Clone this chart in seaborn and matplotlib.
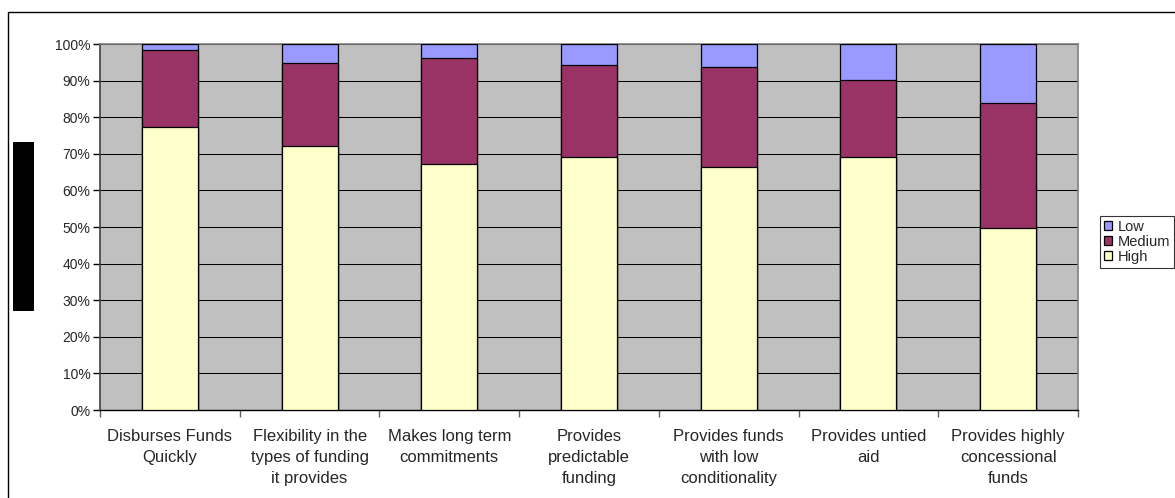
import matplotlib
matplotlib.use("Agg")
import matplotlib.pyplot as plt
import seaborn as sns
import pandas as pd
import numpy as np
from matplotlib.patches import Rectangle

categories = [
    "Disburses Funds\nQuickly",
    "Flexibility in the\ntypes of funding\nit provides",
    "Makes long term\ncommitments",
    "Provides\npredictable\nfunding",
    "Provides funds\nwith low\nconditionality",
    "Provides untied\naid",
    "Provides highly\nconcessional\nfunds",
]
high = [77.3, 72.1, 67.3, 69.0, 66.3, 69.0, 49.8]
medium = [21.1, 22.8, 28.9, 25.3, 27.4, 21.2, 34.2]
low = [1.6, 5.1, 3.8, 5.7, 6.3, 9.8, 16.0]
series_names = ["Low", "Medium", "High"]
colors = {"Low": "#9999FF", "Medium": "#993366", "High": "#FFFFCC"}
yticklabels = ["0%", "10%", "20%", "30%", "40%", "50%", "60%", "70%", "80%", "90%", "100%"]

sns.set_theme(style="white")
plt.rcParams["font.family"] = ["Liberation Sans", "DejaVu Sans"]

df = pd.DataFrame({"cat": categories, "High": high, "Medium": medium, "Low": low})
df["top_high"] = df["High"]
df["top_medium"] = df["High"] + df["Medium"]
df["top_low"] = df["High"] + df["Medium"] + df["Low"]

fig = plt.figure(figsize=(11.75, 4.98), dpi=100)
ax = fig.add_axes([100 / 1175, 1 - 410 / 498, 978 / 1175, 366 / 498])
ax.set_facecolor("#C0C0C0")

for col, name in [("top_low", "Low"), ("top_medium", "Medium"), ("top_high", "High")]:
    sns.barplot(data=df, x="cat", y=col, ax=ax, color=colors[name], saturation=1,
                width=0.4, edgecolor="black", linewidth=0.9, zorder=3, label=name)

ax.set_ylim(0, 100)
ax.set_xlim(-0.5, len(categories) - 0.5)
ax.set_yticks(np.arange(0, 101, 10))
ax.set_yticklabels(yticklabels, fontsize=10)
ax.set_xticks(range(len(categories)))
ax.set_xticklabels(categories, fontsize=12, linespacing=1.5)
ax.set_xlabel("")
ax.set_ylabel("")
ax.tick_params(axis="x", length=0, pad=14)
ax.tick_params(axis="y", length=5, width=1, color="black", direction="out", left=True, pad=2)
# category boundary ticks
ax.set_xticks(np.arange(-0.5, len(categories) + 0.5, 1), minor=True)
ax.tick_params(axis="x", which="minor", length=5, width=1, color="#606060", direction="out", bottom=True)

ax.grid(axis="y", color="black", linewidth=0.75, zorder=1)
ax.grid(axis="x", visible=False)
ax.set_axisbelow(True)
for s in ["top", "right"]:
    ax.spines[s].set_color("#808080")
    ax.spines[s].set_linewidth(1.2)
ax.spines["left"].set_color("#404040")
ax.spines["left"].set_linewidth(1.2)
ax.spines["bottom"].set_color("black")
ax.spines["bottom"].set_linewidth(1.0)

handles, labels = ax.get_legend_handles_labels()
leg = ax.legend(handles, labels, loc="upper left", bbox_to_anchor=(1100 / 1175, 1 - 216 / 498),
                bbox_transform=fig.transFigure, fontsize=10.5, frameon=True, fancybox=False,
                edgecolor="black", handlelength=0.6, handleheight=0.6, handletextpad=0.4,
                labelspacing=0.08, borderpad=0.25, borderaxespad=0)
leg.get_frame().set_linewidth(0.8)

# figure border and black block
fig.patches.append(Rectangle((8 / 1175, -0.1), 1.2, 1 - 12 / 498 + 0.1, transform=fig.transFigure,
                             fill=False, edgecolor="black", linewidth=1.0, zorder=0))
fig.patches.append(Rectangle((13 / 1175, 1 - 311 / 498), 21 / 1175, 169 / 498, transform=fig.transFigure,
                             facecolor="black", edgecolor="none", zorder=5))

fig.savefig("out.png", dpi=100)
